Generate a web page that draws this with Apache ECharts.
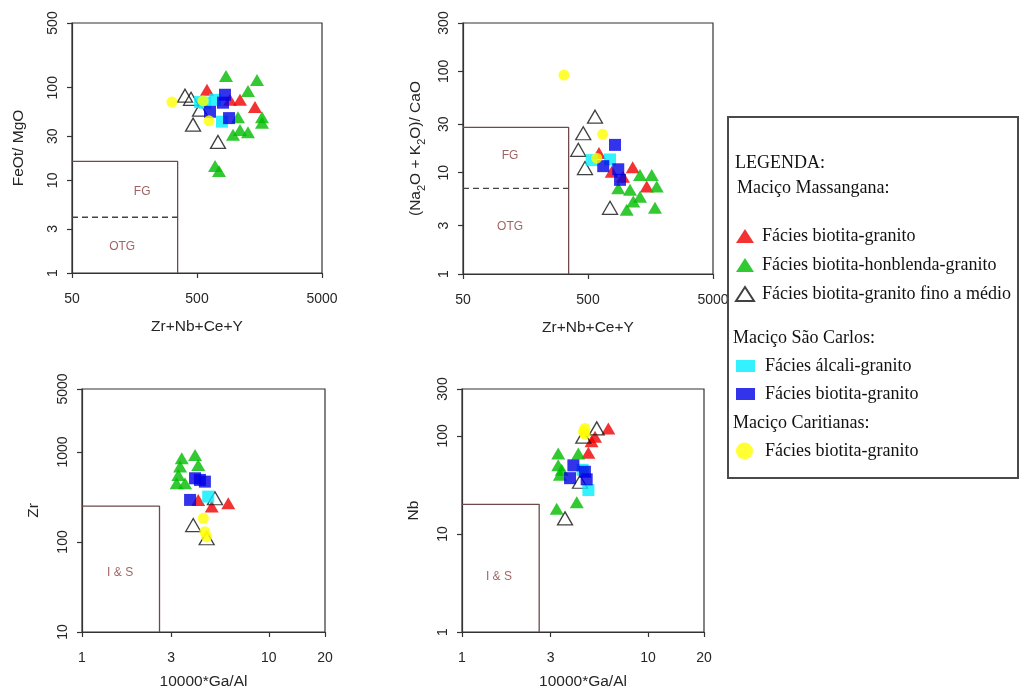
<!DOCTYPE html>
<html>
<head>
<meta charset="utf-8">
<script src="https://cdn.jsdelivr.net/npm/echarts@6/dist/echarts.min.js"></script>
<style>
  html, body { margin: 0; padding: 0; background: #fff; }
  #chart { width: 1020px; height: 693px; }
</style>
</head>
<body>
<div id="chart"></div>
<script>
// ---- tick values ----
const zrSumTicks = [50, 500, 5000];
const feoMgoTicks = [1, 3, 10, 30, 100, 500];
const alkCaoTicks = [1, 3, 10, 30, 100, 300];
const gaAlTicks = [1, 3, 10, 20];
const zrTicks = [10, 100, 1000, 5000];
const nbTicks = [1, 10, 100, 300];

// ---- facies (series) names ----
const faciesNames = [
  'Massangana: Fácies biotita-granito',
  'Massangana: Fácies biotita-honblenda-granito',
  'Massangana: Fácies biotita-granito fino a médio',
  'São Carlos: Fácies álcali-granito',
  'São Carlos: Fácies biotita-granito',
  'Caritianas: Fácies biotita-granito'
];
const legendHeadings = ['LEGENDA:', 'Maciço Massangana:', 'Maciço São Carlos:', 'Maciço Caritianas:'];

// ---- Zr+Nb+Ce+Y vs FeOt/MgO ----
const feoMassBt = [[601, 95], [918, 74], [1104, 74], [1455, 62]];
const feoMassHbl = [[853, 134], [1510, 121], [1279, 92], [1064, 48], [1656, 48], [1656, 42], [971, 31], [1104, 35], [1279, 33], [697, 14.3], [750, 12.6]];
const feoMassFino = [[401, 82], [448, 76], [465, 40], [736, 26], [529, 58]];
const feoScAlc = [[529, 70], [580, 69], [697, 74], [792, 43]];
const feoScBt = [[837, 84], [807, 69], [635, 55], [902, 47]];
const feoCarBt = [[315, 70], [624, 44], [560, 72]];

// ---- Zr+Nb+Ce+Y vs (Na2O+K2O)/CaO ----
const alkMassBt = [[612, 15.6], [1139, 11.3], [774, 10.2], [953, 9.1], [1475, 7.3]];
const alkMassHbl = [[1303, 9.5], [1618, 9.5], [1774, 7.3], [873, 7.0], [1084, 6.8], [1303, 5.8], [1151, 5.2], [1020, 4.3], [1718, 4.5]];
const alkMassFino = [[569, 35.7], [458, 24.5], [418, 16.8], [473, 11.1], [750, 4.5]];
const alkScAlc = [[535, 13.3], [750, 13.5]];
const alkScBt = [[822, 18.8], [662, 11.6], [873, 10.8], [902, 8.5]];
const alkCarBt = [[321, 92], [655, 23.9], [587, 13.9]];

// ---- 10000*Ga/Al vs Zr ----
const zrMassBt = [[4.19, 293], [4.95, 247], [6.07, 269]];
const zrMassHbl = [[3.42, 851], [3.35, 687], [3.28, 555], [3.21, 449], [3.56, 449], [4.03, 926], [4.19, 717]];
const zrMassFino = [[5.15, 306], [3.94, 154], [4.65, 110]];
const zrScAlc = [[4.74, 319]];
const zrScBt = [[4.03, 510], [4.55, 468], [3.79, 293], [4.28, 489]];
const zrCarBt = [[4.46, 183], [4.55, 130], [4.65, 114]];

// ---- 10000*Ga/Al vs Nb ----
const nbMassBt = [[6.12, 119], [5.19, 98], [4.97, 88], [4.78, 67]];
const nbMassHbl = [[3.29, 66], [3.29, 50], [3.36, 40], [3.44, 45], [4.22, 66], [4.14, 21], [3.23, 18]];
const nbMassFino = [[5.30, 119], [4.49, 98], [4.31, 34], [3.58, 14.4]];
const nbScAlc = [[4.78, 28], [4.45, 45]];
const nbScBt = [[3.97, 50], [3.81, 37], [4.58, 43], [4.68, 36]];
const nbCarBt = [[4.58, 119], [4.58, 104], [4.5, 110]];

// ---- discrimination field boundaries and field names ----
const feoFieldBox = [[50, 16], [350, 16], [350, 1]];
const feoFieldSplit = [[50, 4], [350, 4]];
const feoFieldNames = [[182, 7.5, 'FG'], [126, 1.9, 'OTG']];
const alkFieldBox = [[50, 28], [350, 28], [350, 1]];
const alkFieldSplit = [[50, 7], [350, 7]];
const alkFieldNames = [[119, 14.6, 'FG'], [119, 2.9, 'OTG']];
const zrFieldBox = [[1, 250], [2.6, 250], [2.6, 10]];
const zrFieldNames = [[1.6, 46, 'I & S']];
const nbFieldBox = [[1, 20], [2.6, 20], [2.6, 1]];
const nbFieldNames = [[1.58, 3.7, 'I & S']];

// ---- styling ----
const AXIS_COLOR = '#333';
const TEXT_COLOR = '#262626';
const FIELD_COLOR = '#6e4a4a';
const FIELD_TEXT = '#8a3b3b';
const SANS = 'Liberation Sans';
const SERIF = 'Liberation Serif';

const faciesStyles = [
  { symbol: 'triangle', symbolSize: [14, 12], itemStyle: { color: '#f00000' } },
  { symbol: 'triangle', symbolSize: [14, 12], itemStyle: { color: '#00bb00' } },
  { symbol: 'triangle', symbolSize: [15, 13], itemStyle: { color: 'rgba(255,255,255,0)', borderColor: '#111', borderWidth: 1.3 } },
  { symbol: 'rect', symbolSize: 12, itemStyle: { color: '#00eeff' } },
  { symbol: 'rect', symbolSize: 12, itemStyle: { color: '#0000e6' } },
  { symbol: 'circle', symbolSize: 11, itemStyle: { color: '#ffff00' } }
];

const panels = [
  {
    grid: { left: 72, top: 23, width: 250, height: 250 },
    x: { min: 50, max: 5000, ticks: zrSumTicks, name: 'Zr+Nb+Ce+Y', nameGap: 46 },
    y: { min: 1, max: 500, ticks: feoMgoTicks, name: 'FeOt/ MgO', nameGap: 45, margin: 12 },
    groups: [feoMassBt, feoMassHbl, feoMassFino, feoScAlc, feoScBt, feoCarBt],
    box: feoFieldBox, split: feoFieldSplit, names: feoFieldNames
  },
  {
    grid: { left: 463, top: 23, width: 250, height: 251 },
    x: { min: 50, max: 5000, ticks: zrSumTicks, name: 'Zr+Nb+Ce+Y', nameGap: 46 },
    y: { min: 1, max: 300, ticks: alkCaoTicks, name: '{n|(Na}{s|2}{n|O + K}{s|2}{n|O)/ CaO}', nameGap: 36, margin: 12 },
    groups: [alkMassBt, alkMassHbl, alkMassFino, alkScAlc, alkScBt, alkCarBt],
    box: alkFieldBox, split: alkFieldSplit, names: alkFieldNames
  },
  {
    grid: { left: 82, top: 389, width: 243, height: 243 },
    x: { min: 1, max: 20, ticks: gaAlTicks, name: '10000*Ga/Al', nameGap: 42 },
    y: { min: 10, max: 5000, ticks: zrTicks, name: 'Zr', nameGap: 40, margin: 12 },
    groups: [zrMassBt, zrMassHbl, zrMassFino, zrScAlc, zrScBt, zrCarBt],
    box: zrFieldBox, split: null, names: zrFieldNames
  },
  {
    grid: { left: 462, top: 389, width: 242, height: 243 },
    x: { min: 1, max: 20, ticks: gaAlTicks, name: '10000*Ga/Al', nameGap: 42 },
    y: { min: 1, max: 300, ticks: nbTicks, name: 'Nb', nameGap: 40, margin: 12 },
    groups: [nbMassBt, nbMassHbl, nbMassFino, nbScAlc, nbScBt, nbCarBt],
    box: nbFieldBox, split: null, names: nbFieldNames
  }
];

const nameStyle = {
  fontFamily: SANS, fontSize: 15.5, color: TEXT_COLOR,
  rich: {
    n: { fontFamily: SANS, fontSize: 15.5, color: TEXT_COLOR, lineHeight: 22, verticalAlign: 'middle' },
    s: { fontFamily: SANS, fontSize: 11, color: TEXT_COLOR, lineHeight: 22, verticalAlign: 'bottom' }
  }
};

function logAxis(def, gridIndex, isY) {
  return {
    type: 'log', logBase: 10, gridIndex,
    min: def.min, max: def.max,
    name: def.name, nameLocation: 'middle', nameGap: def.nameGap,
    nameRotate: isY ? 90 : 0, nameMoveOverlap: false,
    nameTextStyle: nameStyle,
    axisLine: { show: true, onZero: false, lineStyle: { color: AXIS_COLOR, width: 1.2 } },
    axisTick: { show: true, inside: false, length: 5, customValues: def.ticks, lineStyle: { color: AXIS_COLOR, width: 1.2 } },
    minorTick: { show: false },
    axisLabel: {
      customValues: def.ticks, margin: isY ? def.margin : 19, rotate: isY ? 90 : 0,
      formatter: v => String(Math.round(v * 1000) / 1000),
      fontFamily: SANS, fontSize: 14, color: TEXT_COLOR, hideOverlap: false,
      showMinLabel: true, showMaxLabel: true
    },
    splitLine: { show: false }
  };
}

const grids = [], xAxes = [], yAxes = [], series = [];
panels.forEach((p, i) => {
  grids.push(Object.assign({
    show: true, borderColor: AXIS_COLOR, borderWidth: 1.2, backgroundColor: 'transparent',
    containLabel: false, outerBoundsMode: 'none'
  }, p.grid));
  xAxes.push(logAxis(p.x, i, false));
  yAxes.push(logAxis(p.y, i, true));

  // field outline
  series.push({
    type: 'line', name: 'campo', xAxisIndex: i, yAxisIndex: i, data: p.box,
    symbol: 'none', silent: true, animation: false, z: 1,
    lineStyle: { color: FIELD_COLOR, width: 1.3 }
  });
  if (p.split) {
    series.push({
      type: 'line', name: 'divisão', xAxisIndex: i, yAxisIndex: i, data: p.split,
      symbol: 'none', silent: true, animation: false, z: 1,
      lineStyle: { color: '#444', width: 1.3, type: [6, 4] }
    });
  }
  // field names
  series.push({
    type: 'scatter', name: 'rótulo', xAxisIndex: i, yAxisIndex: i, data: p.names,
    symbolSize: 1, silent: true, animation: false, z: 1,
    itemStyle: { color: 'rgba(0,0,0,0)' },
    label: {
      show: true, position: 'inside', formatter: d => d.data[2],
      fontFamily: SANS, fontSize: 12, color: FIELD_TEXT
    }
  });
  // samples
  p.groups.forEach((g, k) => {
    const st = faciesStyles[k];
    series.push({
      type: 'scatter', name: faciesNames[k], xAxisIndex: i, yAxisIndex: i, data: g,
      symbol: st.symbol, symbolSize: st.symbolSize, itemStyle: st.itemStyle,
      animation: false, z: 3
    });
  });
});

const legendText = {
  fontFamily: SERIF, fontSize: 18, color: '#111', lineHeight: 18
};
const legendFormatter = name => name.slice(name.indexOf(': ') + 2);

const legends = [
  {
    data: faciesNames.slice(0, 3), orient: 'vertical', left: 735, top: 227, padding: 0,
    itemWidth: 18, itemHeight: 14, itemGap: 11, symbolKeepAspect: false,
    selectedMode: false, formatter: legendFormatter, z: 6,
    textStyle: Object.assign({ padding: [0, 0, 0, 3] }, legendText)
  },
  {
    data: faciesNames.slice(3, 5), orient: 'vertical', left: 736, top: 357, padding: 0,
    itemWidth: 19, itemHeight: 12, itemGap: 10, symbolKeepAspect: false,
    selectedMode: false, formatter: legendFormatter, z: 6,
    textStyle: Object.assign({ padding: [0, 0, 0, 5] }, legendText)
  },
  {
    data: faciesNames.slice(5, 6), orient: 'vertical', left: 736, top: 442, padding: 0,
    itemWidth: 17, itemHeight: 17, itemGap: 10, symbolKeepAspect: false,
    selectedMode: false, formatter: legendFormatter, z: 6,
    textStyle: Object.assign({ padding: [0, 0, 0, 7] }, legendText)
  }
];

const headingPos = [[735, 163], [737, 188], [733, 338], [733, 423]];
const graphics = [{
  type: 'rect', z: 3, silent: true,
  shape: { x: 728, y: 117, width: 290, height: 361 },
  style: { fill: '#fff', stroke: '#4a4a4a', lineWidth: 2 }
}];
legendHeadings.forEach((t, i) => {
  graphics.push({
    type: 'text', z: 6, silent: true,
    style: {
      text: t, x: headingPos[i][0], y: headingPos[i][1],
      font: '18px "Liberation Serif"', fill: '#111', verticalAlign: 'middle'
    }
  });
});

const chart = echarts.init(document.getElementById('chart'), null, { renderer: 'canvas' });
chart.setOption({
  animation: false,
  backgroundColor: '#fff',
  grid: grids,
  xAxis: xAxes,
  yAxis: yAxes,
  legend: legends,
  graphic: graphics,
  series: series
});
</script>
</body>
</html>
